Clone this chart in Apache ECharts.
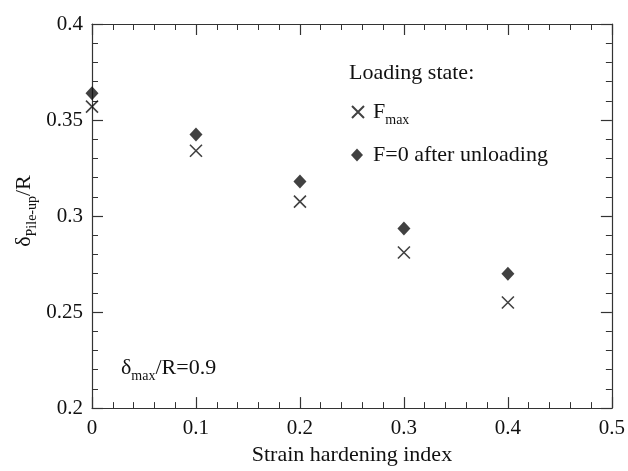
<!DOCTYPE html>
<html>
<head>
<meta charset="utf-8">
<script src="https://cdn.jsdelivr.net/npm/echarts@6/dist/echarts.min.js"></script>
<style>
  html, body { margin: 0; padding: 0; background: #fff; }
  #chart { width: 628px; height: 471px; }
</style>
</head>
<body>
<div id="chart"></div>
<script>
// strain hardening index
const hardening = [0, 0.1, 0.2, 0.3, 0.4]
// pile-up height / R at maximum load
const pileUpFmax = [0.357, 0.334, 0.3075, 0.281, 0.255]
// pile-up height / R after unloading (F=0)
const pileUpUnload = [0.364, 0.3425, 0.318, 0.2935, 0.270]

const FONT = 'Liberation Serif'
const INK = '#111'
const AXIS = '#333'
const CROSS = 'path://M0,0L10,10M10,0L0,10'

const chart = echarts.init(document.getElementById('chart'))

function pairs (xs, ys) {
  return xs.map((x, i) => [x, ys[i]])
}

// shared box-axis look: ticks pointing inward, minor ticks between
function boxAxis (extra) {
  return Object.assign({
    type: 'value',
    axisLine: { show: true, onZero: false, lineStyle: { color: AXIS, width: 1.2 } },
    axisTick: { show: true, inside: true, length: 11, lineStyle: { color: AXIS, width: 1.2 } },
    minorTick: { show: true, splitNumber: 5, length: 6, lineStyle: { color: AXIS, width: 1 } },
    splitLine: { show: false },
    minorSplitLine: { show: false }
  }, extra)
}

const labelStyle = { show: true, color: INK, fontFamily: FONT, fontSize: 21 }

function legendText (padLeft) {
  return {
    color: INK,
    fontFamily: FONT,
    fontSize: 22,
    padding: [0, 0, 0, padLeft],
    rich: {
      t: { fontFamily: FONT, fontSize: 22, color: INK },
      sub: { fontFamily: FONT, fontSize: 14, color: INK, verticalAlign: 'bottom', padding: [16, 0, 0, 0] }
    }
  }
}

const option = {
  animation: false,
  backgroundColor: '#fff',
  grid: { left: 92, right: 15, top: 24, bottom: 54 },
  xAxis: [
    boxAxis({
      min: 0, max: 0.5, interval: 0.1,
      position: 'bottom',
      axisLabel: Object.assign({ margin: 10 }, labelStyle),
      name: 'Strain hardening index',
      nameLocation: 'middle',
      nameGap: 32,
      nameTextStyle: { color: INK, fontFamily: FONT, fontSize: 22 }
    }),
    boxAxis({
      min: 0, max: 0.5, interval: 0.1,
      position: 'top',
      axisLabel: { show: false }
    })
  ],
  yAxis: [
    boxAxis({
      min: 0.2, max: 0.4, interval: 0.05,
      position: 'left',
      axisLabel: Object.assign({ margin: 9 }, labelStyle)
    }),
    boxAxis({
      min: 0.2, max: 0.4, interval: 0.05,
      position: 'right',
      axisLabel: { show: false }
    })
  ],
  legend: [
    {
      data: ['Fmax'],
      left: 346, top: 96,
      itemWidth: 12, itemHeight: 12,
      formatter: () => '{t|F}{sub|max}',
      textStyle: legendText(4)
    },
    {
      data: ['F=0 after unloading'],
      left: 346, top: 139,
      itemWidth: 12, itemHeight: 13,
      textStyle: legendText(5)
    }
  ],
  graphic: [
    {
      type: 'text', left: 349, top: 62,
      style: { text: 'Loading state:', fill: INK, font: '22px "' + FONT + '"' }
    },
    {
      type: 'text', x: 24, y: 211, rotation: Math.PI / 2,
      style: {
        text: 'δ{sub|Pile-up}/R',
        fill: INK,
        font: '22px "' + FONT + '"',
        align: 'center',
        verticalAlign: 'middle',
        rich: {
          sub: { fontFamily: FONT, fontSize: 14, fill: INK, verticalAlign: 'bottom', padding: [16, 0, 0, 0] }
        }
      }
    },
    {
      type: 'text', left: 121, top: 357,
      style: {
        text: 'δ{sub|max}/R=0.9',
        fill: INK,
        font: '22px "' + FONT + '"',
        rich: {
          sub: { fontFamily: FONT, fontSize: 14, fill: INK, verticalAlign: 'bottom', padding: [16, 0, 0, 0] }
        }
      }
    }
  ],
  series: [
    {
      name: 'Fmax',
      type: 'scatter',
      symbol: CROSS,
      symbolSize: 12,
      itemStyle: { color: 'transparent', borderColor: INK, borderWidth: 1.6 },
      data: pairs(hardening, pileUpFmax),
      z: 3
    },
    {
      name: 'F=0 after unloading',
      type: 'scatter',
      symbol: 'diamond',
      symbolSize: [13, 14],
      itemStyle: { color: INK },
      data: pairs(hardening, pileUpUnload),
      z: 4
    }
  ]
}

chart.setOption(option)
</script>
</body>
</html>
